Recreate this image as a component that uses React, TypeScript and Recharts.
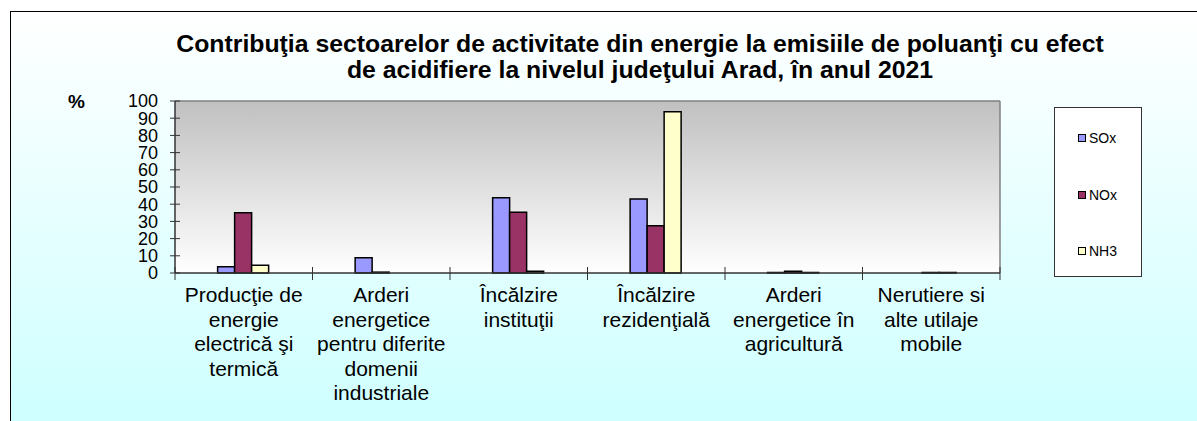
import React from 'react';
import { BarChart, Bar, XAxis, YAxis, CartesianGrid } from 'recharts';

const FONT = 'Arial, "Liberation Sans", sans-serif';

const titleLines = [
  'Contribuţia sectoarelor de activitate din energie la emisiile de poluanţi cu efect',
  'de acidifiere la nivelul judeţului Arad, în anul 2021',
];

const categoryLabels: string[][] = [
  ['Producţie de', 'energie', 'electrică şi', 'termică'],
  ['Arderi', 'energetice', 'pentru diferite', 'domenii', 'industriale'],
  ['Încălzire', 'instituţii'],
  ['Încălzire', 'rezidenţială'],
  ['Arderi', 'energetice în', 'agricultură'],
  ['Nerutiere si', 'alte utilaje', 'mobile'],
];

const soxValues = [3.7, 8.9, 43.8, 43.0, 0.3, 0];
const noxValues = [35.0, 0.5, 35.3, 27.5, 1.0, 0.3];
const nh3Values = [4.5, 0, 1.0, 93.8, 0.3, 0.3];

const yTicks = [0, 10, 20, 30, 40, 50, 60, 70, 80, 90, 100];

const series = [
  { key: 'SOx', color: '#9999FF' },
  { key: 'NOx', color: '#993366' },
  { key: 'NH3', color: '#FFFFCC' },
];

const data = categoryLabels.map((lines, i) => ({
  name: lines.join(' '),
  SOx: soxValues[i],
  NOx: noxValues[i],
  NH3: nh3Values[i],
}));

const linesByName: Record<string, string[]> = {};
categoryLabels.forEach((l) => {
  linesByName[l.join(' ')] = l;
});

const XTick = (props: any) => {
  const { x, y, payload, index, visibleTicksCount } = props;
  const half = payload && payload.offset ? payload.offset : 0;
  const lines = linesByName[payload.value] || [];
  return (
    <g>
      <line x1={x - half} x2={x - half} y1={y - 12} y2={y + 1} stroke="#333" strokeWidth={1} />
      {index === visibleTicksCount - 1 ? (
        <line x1={x + half} x2={x + half} y1={y - 12} y2={y + 1} stroke="#333" strokeWidth={1} />
      ) : null}
      <text x={x} y={y + 23} textAnchor="middle" fontSize={21} fontFamily={FONT} fill="#000">
        {lines.map((l, k) => (
          <tspan key={k} x={x} dy={k === 0 ? 0 : 24.5}>
            {l}
          </tspan>
        ))}
      </text>
    </g>
  );
};

const YTick = (props: any) => {
  const { x, y, payload } = props;
  return (
    <g>
      <line x1={x + 12} x2={x + 22} y1={y} y2={y} stroke="#333" strokeWidth={1} />
      <text x={x} y={y} dy="0.36em" textAnchor="end" fontSize={18} fontFamily={FONT} fill="#000">
        {payload.value}
      </text>
    </g>
  );
};

export default function App() {
  return (
    <div
      style={{
        position: 'absolute',
        left: 0,
        top: 0,
        width: 1197,
        height: 421,
        overflow: 'hidden',
        background: '#fff',
        fontFamily: FONT,
      }}
    >
      <div
        style={{
          position: 'absolute',
          left: 10,
          top: 11,
          width: 1200,
          height: 430,
          borderTop: '1px solid #000',
          borderLeft: '1px solid #000',
          background: 'linear-gradient(#ffffff, #ccffff)',
        }}
      />
      <div
        style={{
          position: 'absolute',
          left: 90,
          top: 31,
          width: 1100,
          textAlign: 'center',
          fontWeight: 'bold',
          fontSize: 24.8,
          lineHeight: '26px',
          color: '#000',
        }}
      >
        {titleLines.map((t, i) => (
          <div key={i} style={{ whiteSpace: 'nowrap' }}>{t}</div>
        ))}
      </div>
      <div
        style={{
          position: 'absolute',
          left: 68,
          top: 90,
          fontWeight: 'bold',
          fontSize: 19,
          lineHeight: '24px',
          color: '#000',
        }}
      >
        %
      </div>
      <div style={{ position: 'absolute', left: 0, top: 0 }}>
        <BarChart
          width={1197}
          height={421}
          data={data}
          margin={{ top: 101, right: 197, left: 0, bottom: 0 }}
          barCategoryGap="31%"
          barGap={0}
        >
          <defs>
            <linearGradient id="plotGrad" x1="0" y1="0" x2="0" y2="1">
              <stop offset="0%" stopColor="#C0C0C0" />
              <stop offset="100%" stopColor="#FFFFFF" />
            </linearGradient>
          </defs>
          <CartesianGrid
            fill="url(#plotGrad)"
            fillOpacity={1}
            stroke="#808080"
            strokeWidth={1.5}
            horizontalCoordinatesGenerator={({ offset }: any) => [offset.top]}
            verticalCoordinatesGenerator={({ offset }: any) => [offset.left + offset.width]}
          />
          <XAxis
            dataKey="name"
            interval={0}
            height={148}
            tickSize={6}
            tickMargin={0}
            tickLine={false}
            axisLine={{ stroke: '#333', strokeWidth: 1.5 }}
            tick={<XTick />}
          />
          <YAxis
            domain={[0, 100]}
            ticks={yTicks}
            interval={0}
            width={175}
            tickSize={5}
            tickMargin={12}
            tickLine={false}
            axisLine={{ stroke: '#333', strokeWidth: 1.5 }}
            tick={<YTick />}
          />
          {series.map((s) => (
            <Bar
              key={s.key}
              dataKey={s.key}
              fill={s.color}
              stroke="#000"
              strokeWidth={1.5}
              isAnimationActive={false}
            />
          ))}
        </BarChart>
      </div>
      <div
        style={{
          position: 'absolute',
          left: 1054,
          top: 107,
          width: 88,
          height: 170,
          boxSizing: 'border-box',
          border: '1px solid #333',
          background: '#fff',
        }}
      >
        {series.map((s, i) => (
          <div
            key={s.key}
            style={{
              position: 'absolute',
              left: 23,
              top: 22 + i * 56.5,
              height: 16,
              display: 'flex',
              alignItems: 'center',
              fontSize: 14,
              color: '#000',
            }}
          >
            <span
              style={{
                display: 'inline-block',
                width: 8,
                height: 8,
                boxSizing: 'border-box',
                border: '1.5px solid #000',
                background: s.color,
                marginRight: 3,
              }}
            />
            <span>{s.key}</span>
          </div>
        ))}
      </div>
    </div>
  );
}
